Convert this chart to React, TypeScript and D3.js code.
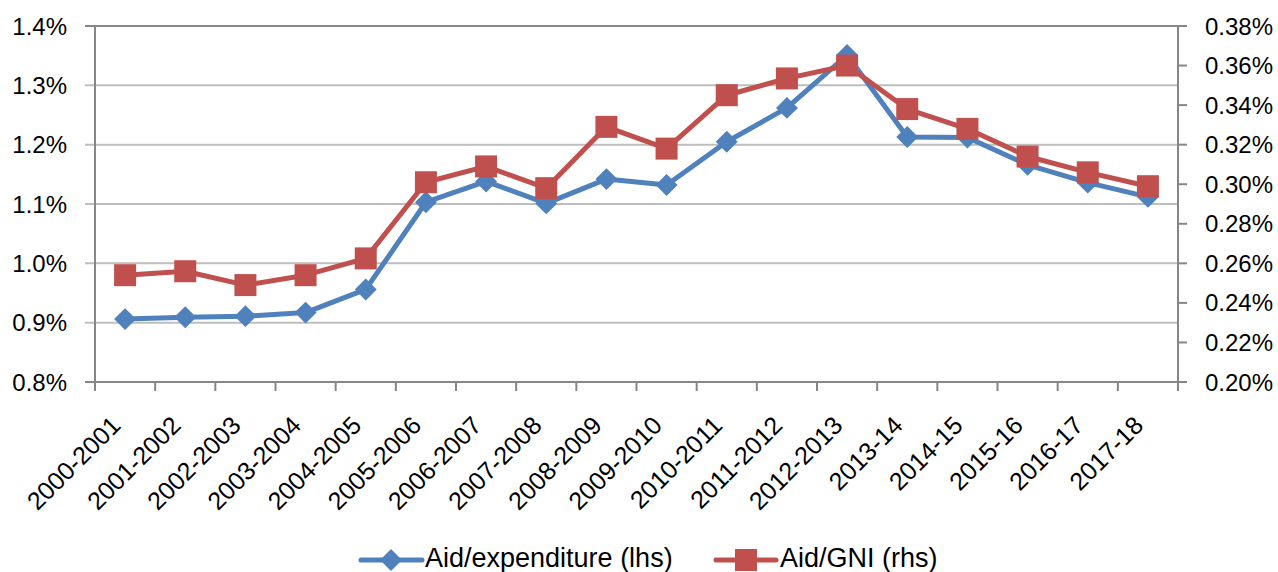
import { useEffect, useRef } from "react";
import * as d3 from "d3";

const years = [
  "2000-2001", "2001-2002", "2002-2003", "2003-2004", "2004-2005", "2005-2006",
  "2006-2007", "2007-2008", "2008-2009", "2009-2010", "2010-2011", "2011-2012",
  "2012-2013", "2013-14", "2014-15", "2015-16", "2016-17", "2017-18",
];

// % of expenditure (left axis)
const aidExpenditure = [
  0.906, 0.909, 0.911, 0.917, 0.956, 1.103, 1.138, 1.101, 1.142, 1.132,
  1.205, 1.262, 1.351, 1.213, 1.212, 1.166, 1.136, 1.112,
];

// % of GNI (right axis)
const aidGni = [
  0.254, 0.256, 0.249, 0.254, 0.2625, 0.301, 0.309, 0.298, 0.329, 0.318,
  0.345, 0.3535, 0.360, 0.338, 0.328, 0.314, 0.306, 0.299,
];

const leftTicks = [0.8, 0.9, 1.0, 1.1, 1.2, 1.3, 1.4];
const rightTicks = [0.2, 0.22, 0.24, 0.26, 0.28, 0.3, 0.32, 0.34, 0.36, 0.38];

const BLUE = "#4F81BD";
const RED = "#C0504D";
const FONT = "'Liberation Sans', Arial, sans-serif";

export default function App() {
  const svgRef = useRef<SVGSVGElement>(null);

  useEffect(() => {
    if (!svgRef.current) return;
    const svg = d3.select(svgRef.current);
    svg.selectAll("*").remove();

    const left = 95, right = 1178, top = 26, bottom = 382;

    const x = d3.scaleBand().domain(years).range([left, right]);
    const yL = d3.scaleLinear().domain([0.8, 1.4]).range([bottom, top]);
    const yR = d3.scaleLinear().domain([0.2, 0.38]).range([bottom, top]);
    const cx = (d: string) => (x(d) || 0) + x.bandwidth() / 2;

    // gridlines + left ticks
    svg.append("g")
      .selectAll("line")
      .data(leftTicks)
      .join("line")
      .attr("x1", left - 10)
      .attr("x2", right)
      .attr("y1", (d) => yL(d))
      .attr("y2", (d) => yL(d))
      .attr("stroke", (d) => (d === 1.4 || d === 0.8 ? "#868686" : "#BEBEBE"))
      .attr("stroke-width", 2);

    svg.append("g")
      .selectAll("text")
      .data(leftTicks)
      .join("text")
      .attr("x", 67)
      .attr("y", (d) => yL(d))
      .attr("text-anchor", "end")
      .attr("dominant-baseline", "central")
      .attr("font-family", FONT)
      .attr("font-size", 24)
      .attr("fill", "#000")
      .text((d) => `${d.toFixed(1)}%`);

    // axis lines
    svg.append("line")
      .attr("x1", left).attr("x2", left)
      .attr("y1", top).attr("y2", bottom)
      .attr("stroke", "#868686").attr("stroke-width", 2);
    svg.append("line")
      .attr("x1", right).attr("x2", right)
      .attr("y1", top).attr("y2", bottom)
      .attr("stroke", "#868686").attr("stroke-width", 2);

    // right ticks
    svg.append("g")
      .selectAll("line")
      .data(rightTicks)
      .join("line")
      .attr("x1", right)
      .attr("x2", right + 9)
      .attr("y1", (d) => yR(d))
      .attr("y2", (d) => yR(d))
      .attr("stroke", "#868686")
      .attr("stroke-width", 2);

    svg.append("g")
      .selectAll("text")
      .data(rightTicks)
      .join("text")
      .attr("x", 1205)
      .attr("y", (d) => yR(d))
      .attr("dominant-baseline", "central")
      .attr("font-family", FONT)
      .attr("font-size", 24)
      .attr("fill", "#000")
      .text((d) => `${d.toFixed(2)}%`);

    // x ticks at band edges
    const edges = years.map((d) => x(d) || 0).concat([right]);
    svg.append("g")
      .selectAll("line")
      .data(edges)
      .join("line")
      .attr("x1", (d) => d)
      .attr("x2", (d) => d)
      .attr("y1", bottom)
      .attr("y2", bottom + 9)
      .attr("stroke", "#868686")
      .attr("stroke-width", 2);

    svg.append("g")
      .selectAll("text")
      .data(years)
      .join("text")
      .attr("transform", (d) => `translate(${cx(d) - 3},${bottom + 45}) rotate(-45)`)
      .attr("text-anchor", "end")
      .attr("font-family", FONT)
      .attr("font-size", 25)
      .attr("fill", "#000")
      .text((d) => d);

    // series
    const lineL = d3.line<number>().x((_, i) => cx(years[i])).y((d) => yL(d));
    const lineR = d3.line<number>().x((_, i) => cx(years[i])).y((d) => yR(d));
    const diamond = d3.symbol().type(d3.symbolSquare).size(240);

    svg.append("path")
      .datum(aidExpenditure)
      .attr("d", lineL)
      .attr("fill", "none")
      .attr("stroke", BLUE)
      .attr("stroke-width", 5)
      .attr("stroke-linejoin", "round");

    svg.append("g")
      .selectAll("path")
      .data(aidExpenditure)
      .join("path")
      .attr("transform", (d, i) => `translate(${cx(years[i])},${yL(d)}) rotate(45)`)
      .attr("d", diamond)
      .attr("fill", BLUE);

    svg.append("path")
      .datum(aidGni)
      .attr("d", lineR)
      .attr("fill", "none")
      .attr("stroke", RED)
      .attr("stroke-width", 5)
      .attr("stroke-linejoin", "round");

    svg.append("g")
      .selectAll("rect")
      .data(aidGni)
      .join("rect")
      .attr("x", (_, i) => cx(years[i]) - 11)
      .attr("y", (d) => yR(d) - 11)
      .attr("width", 22)
      .attr("height", 22)
      .attr("fill", RED);

    // legend
    const ly = 560;
    const baseline = 567;
    const leg = svg.append("g");
    leg.append("line")
      .attr("x1", 361).attr("x2", 422).attr("y1", ly).attr("y2", ly)
      .attr("stroke", BLUE).attr("stroke-width", 5).attr("stroke-linecap", "round");
    leg.append("path")
      .attr("transform", `translate(391,${ly}) rotate(45)`)
      .attr("d", diamond)
      .attr("fill", BLUE);
    leg.append("text")
      .attr("x", 425).attr("y", baseline)
      .attr("font-family", FONT).attr("font-size", 27).attr("fill", "#000")
      .text("Aid/expenditure (lhs)");

    leg.append("line")
      .attr("x1", 716).attr("x2", 776).attr("y1", ly).attr("y2", ly)
      .attr("stroke", RED).attr("stroke-width", 5).attr("stroke-linecap", "round");
    leg.append("rect")
      .attr("x", 735).attr("y", ly - 11).attr("width", 22).attr("height", 22)
      .attr("fill", RED);
    leg.append("text")
      .attr("x", 780).attr("y", baseline)
      .attr("font-family", FONT).attr("font-size", 27).attr("fill", "#000")
      .text("Aid/GNI (rhs)");
  }, []);

  return (
    <svg
      ref={svgRef}
      width={1278}
      height={572}
      style={{ position: "absolute", left: 0, top: 0, background: "#fff" }}
    />
  );
}
